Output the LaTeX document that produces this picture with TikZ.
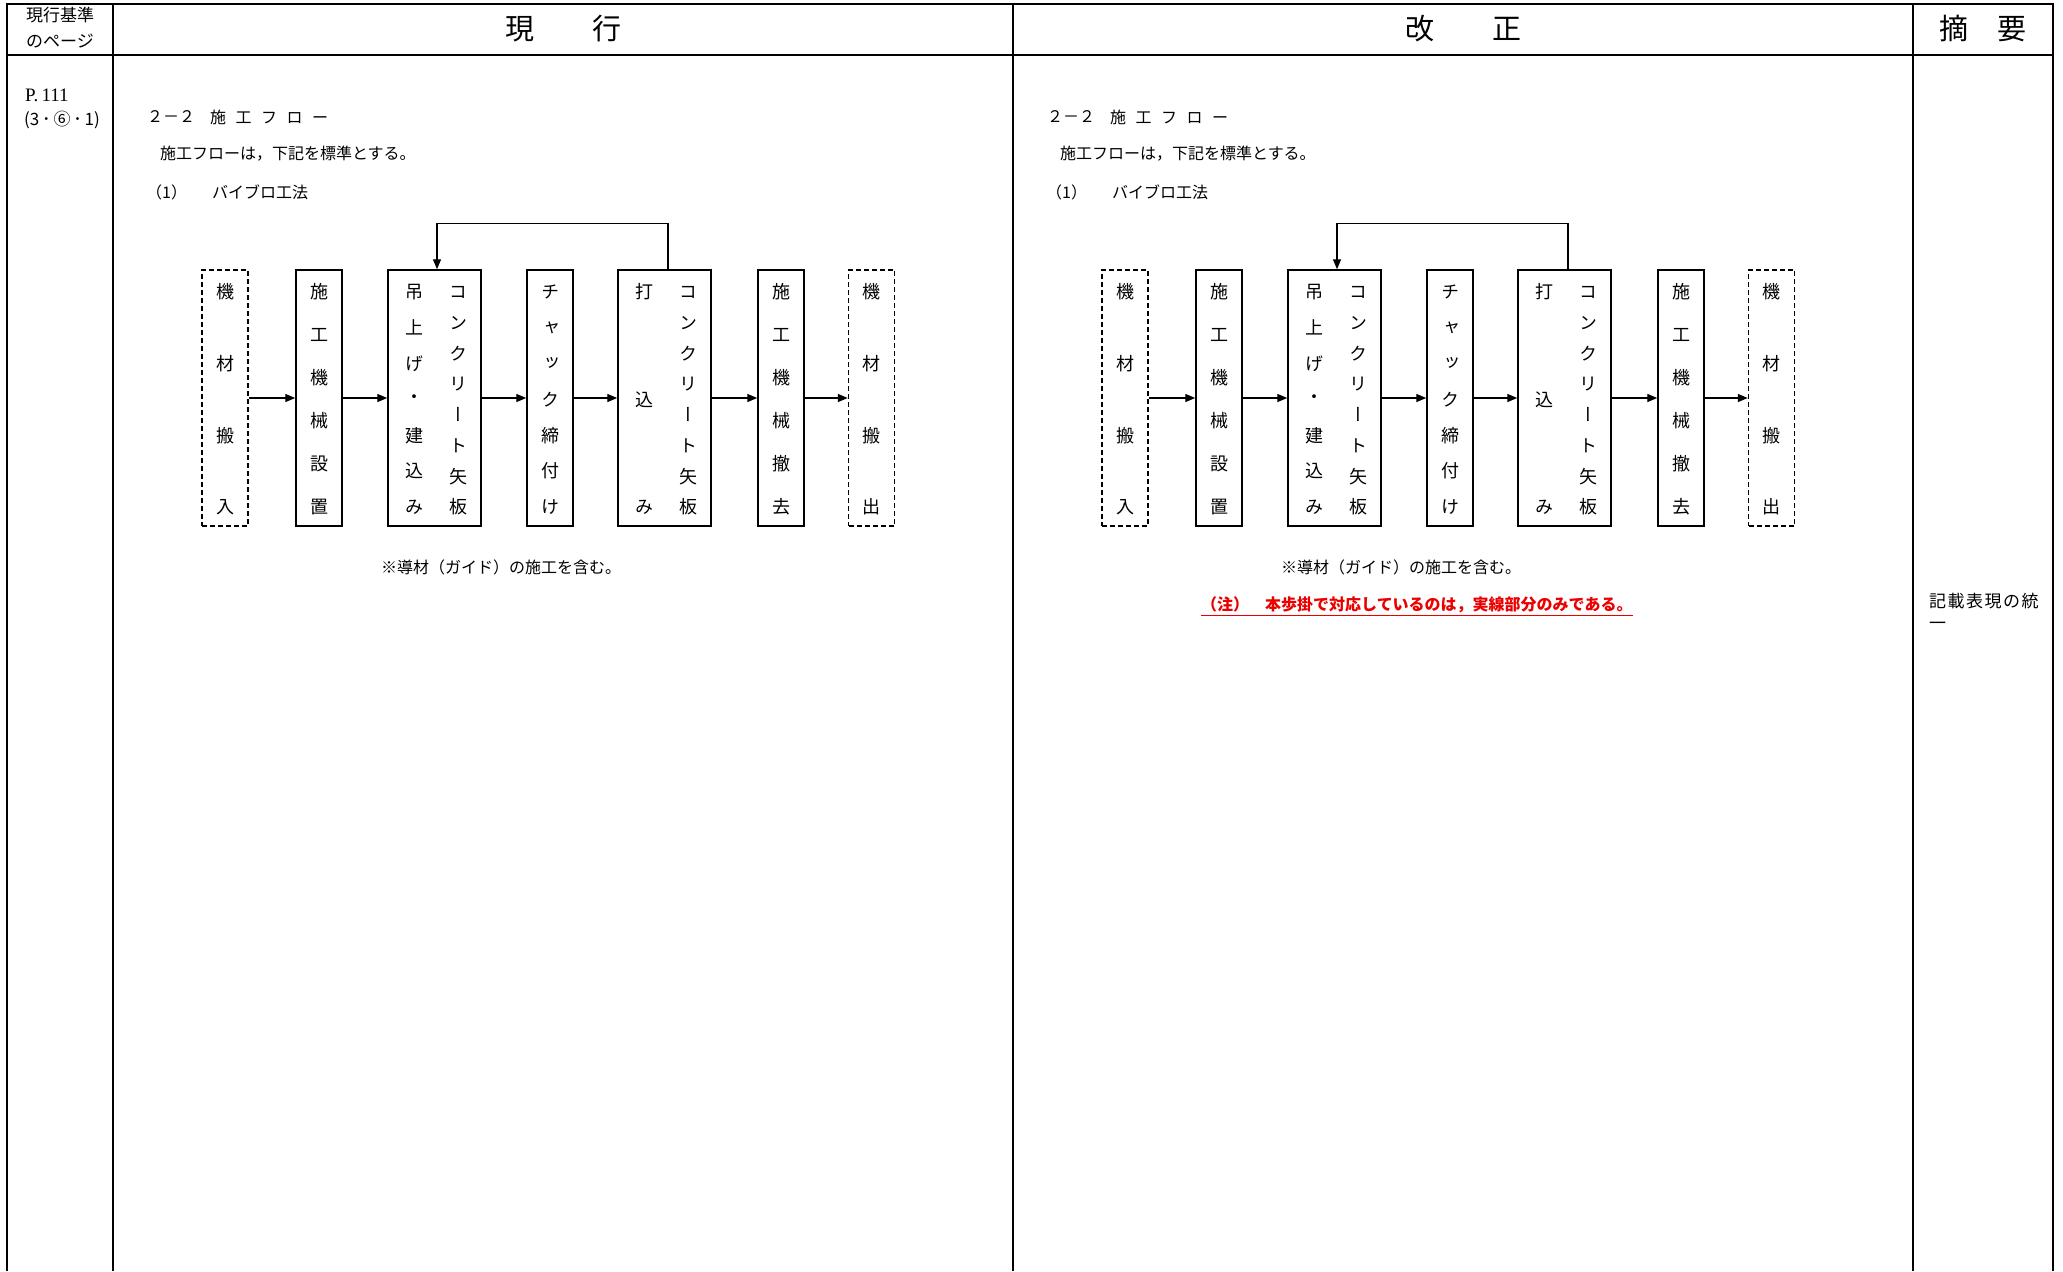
\documentclass[tikz,border=0pt]{standalone}
\usepackage{fontspec}
\usetikzlibrary{arrows.meta}
\newfontfamily\jp{Noto Sans CJK JP}
\newfontfamily\jpv[RawFeature=+vert]{Noto Sans CJK JP}
\newfontfamily\lserif{Liberation Serif}
\definecolor{notered}{RGB}{235,0,0}
\newcommand\vcol[4]{%
  \foreach \vc [count=\vi from 0] in {#4} {
    \node[vch] (#1-\vi) at ({#2}, {292+\vi*215/(#3-1)}) {\vc};
  }%
}
\newcommand\flowpart[2]{%
\begin{scope}[xshift=#2pt]
  \node[txt] (#1h1) at (147,117) {２－２};
  \node[txt] (#1h2) at (210,117) {施\hspace{9.5pt}工\hspace{9.5pt}フ\hspace{9.5pt}ロ\hspace{9.5pt}ー};
  \node[txt] (#1h3) at (160,154) {施工フローは，下記を標準とする。};
  \node[txt] (#1h4) at (146,192) {（1）};
  \node[txt] (#1h5) at (212,192) {バイブロ工法};
  \node[dashbox]  (#1b1) at (225,398) {};
  \node[solidbox] (#1b2) at (319,398) {};
  \node[widebox]  (#1b3) at (434.5,398) {};
  \node[solidbox] (#1b4) at (550,398) {};
  \node[widebox]  (#1b5) at (664.5,398) {};
  \node[solidbox] (#1b6) at (781,398) {};
  \node[dashbox]  (#1b7) at (871.5,398) {};
  \vcol{#1c1}{225}{4}{機,材,搬,入}
  \vcol{#1c2}{319}{6}{施,工,機,械,設,置}
  \vcol{#1c3}{414}{7}{吊,上,げ,・,建,込,み}
  \vcol{#1c4}{458}{8}{コ,ン,ク,リ,ー,ト,矢,板}
  \vcol{#1c5}{550}{7}{チ,ャ,ッ,ク,締,付,け}
  \vcol{#1c6}{644}{3}{打,込,み}
  \vcol{#1c7}{688}{8}{コ,ン,ク,リ,ー,ト,矢,板}
  \vcol{#1c8}{781}{6}{施,工,機,械,撤,去}
  \vcol{#1c9}{871.5}{4}{機,材,搬,出}
  \draw[arr] (#1b1) -- (#1b2);
  \draw[arr] (#1b2) -- (#1b3);
  \draw[arr] (#1b3) -- (#1b4);
  \draw[arr] (#1b4) -- (#1b5);
  \draw[arr] (#1b5) -- (#1b6);
  \draw[arr] (#1b6) -- (#1b7);
  \draw[arr] ([xshift=3.5pt]#1b5.north) -- ++(0,-46) -| ([xshift=2.5pt]#1b3.north);
  \node[txt] (#1note) at (381,567) {※導材（ガイド）の施工を含む。};
\end{scope}}

\begin{document}
\begin{tikzpicture}[x=1pt,y=-1pt,
  tbl/.style={line width=2.2pt},
  solidbox/.style={draw, line width=1.5pt, minimum width=46pt, minimum height=256pt, inner sep=0pt},
  dashbox/.style={solidbox, dash pattern=on 5pt off 3pt},
  widebox/.style={solidbox, minimum width=93pt},
  vch/.style={font=\jpv\fontsize{18}{18}\selectfont, inner sep=0pt},
  txt/.style={font=\jp\fontsize{16}{16}\selectfont, inner sep=0pt, anchor=west},
  head/.style={font=\jp\fontsize{29}{29}\selectfont, inner sep=0pt},
  small/.style={font=\jp\fontsize{17}{17}\selectfont, inner sep=0pt},
  arr/.style={line width=1.4pt, -{Triangle[length=10pt,width=8pt]}},
]
\fill[white] (0,0) rectangle (2063,1271);
\useasboundingbox (0,0) rectangle (2063,1271);
% table
\draw[tbl] (7,1271) -- (7,4) -- (2053,4) -- (2053,1271);
\draw[tbl] (7,55) -- (2053,55);
\draw[tbl] (113,4) -- (113,1271);
\draw[tbl] (1013,4) -- (1013,1271);
\draw[tbl] (1913,4) -- (1913,1271);
% headers
\node[small] (hp1) at (60,15) {現行基準};
\node[small] (hp2) at (60,41) {のページ};
\node[head] (hcur) at (563,29) {現　　行};
\node[head] (hnew) at (1463,29) {改　　正};
\node[head] (hsum) at (1983,29) {摘　要};
% page ref
\node[font=\lserif\fontsize{19}{19}\selectfont, inner sep=0pt, anchor=west] (pg) at (25,95) {P.\,111};
\node[font=\jp\fontsize{17}{17}\selectfont, inner sep=0pt, anchor=west] (pgs) at (24,120) {(3\,･\,⑥\,･\,1)};
% flows
\flowpart{L}{0}
\flowpart{R}{900}
% red note
\node[txt, font=\jp\bfseries\fontsize{16}{16}\selectfont, text=notered] (rednote) at (1201,605) {（注）　本歩掛で対応しているのは，実線部分のみである。};
\draw[notered, line width=1.3pt] ([yshift=-2pt]rednote.south west) -- ([yshift=-2pt]rednote.south east);
% summary
\node[txt, font=\jp\fontsize{17}{17}\selectfont] (sum1) at (1929,601) {記\hspace{1.5pt}載\hspace{1.5pt}表\hspace{1.5pt}現\hspace{1.5pt}の\hspace{1.5pt}統};
\node[txt, font=\jp\fontsize{17}{17}\selectfont] (sum2) at (1929,626) {一};
\end{tikzpicture}
\end{document}
